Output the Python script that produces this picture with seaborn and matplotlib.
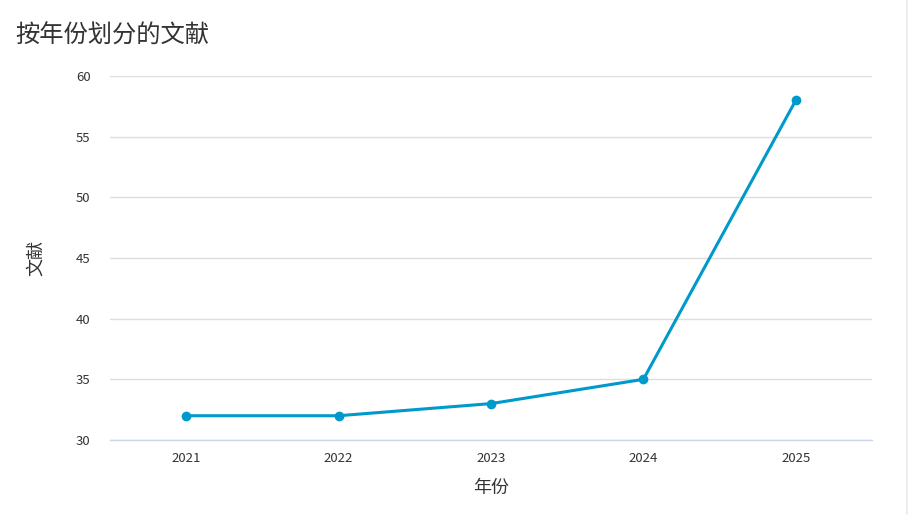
import matplotlib
matplotlib.use("Agg")
import matplotlib.pyplot as plt
import seaborn as sns
import pandas as pd
from matplotlib.patches import Rectangle

years = ["2021", "2022", "2023", "2024", "2025"]
counts = [32, 32, 33, 35, 58]
yticks = [30, 35, 40, 45, 50, 55, 60]

sns.set_theme(style="white")
plt.rcParams['font.family'] = ['Noto Sans CJK SC', 'DejaVu Sans']

df = pd.DataFrame({"年份": years, "文献": counts})

fig = plt.figure(figsize=(9.08, 5.15), dpi=100)
ax = fig.add_axes([110/908, 1-440/515, 762/908, 364/515])

sns.lineplot(data=df, x="年份", y="文献", ax=ax, color="#0099cc",
             linewidth=2.2, marker="o", markersize=7, markeredgewidth=0, sort=False)

ax.set_xlim(-0.5, len(years)-0.5)
ax.set_ylim(30, 60)
ax.set_yticks(yticks)
ax.set_yticklabels([str(t) for t in yticks])
ax.grid(axis="y", color="#dddddd", linewidth=1)
ax.set_axisbelow(True)
for s in ["top", "right", "left"]:
    ax.spines[s].set_visible(False)
ax.spines["bottom"].set_color("#ccd6eb")
ax.spines["bottom"].set_linewidth(1)
ax.tick_params(axis="both", length=0, labelsize=9.5, colors="#333333")
ax.tick_params(axis="x", pad=9)
ax.tick_params(axis="y", pad=14)
ax.set_xlabel("年份", fontsize=13, color="#333333", labelpad=10)
ax.set_ylabel("文献", fontsize=13, color="#333333", labelpad=22)

fig.text(15/908, 1-36/515, "按年份划分的文献", fontsize=17.5, color="#333333",
         ha="left", va="center")
fig.patches.append(Rectangle((906/908, 0), 2/908, 1, transform=fig.transFigure,
                             facecolor="#eeeeee", edgecolor="none"))

fig.savefig("out.png", dpi=100)
